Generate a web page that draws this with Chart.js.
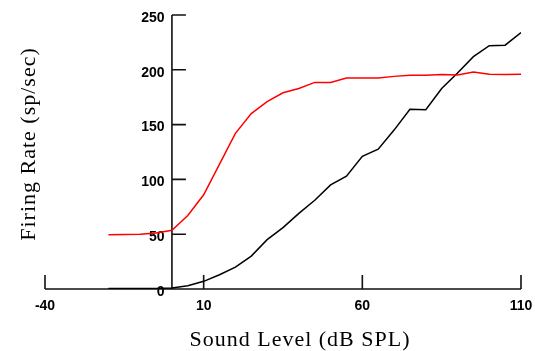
<!DOCTYPE html>
<html>
<head>
<meta charset="utf-8">
<script src="https://cdn.jsdelivr.net/npm/chart.js@4.4.1/dist/chart.umd.min.js"></script>
<style>
    body { margin: 0; background: #fff; }
    #wrap { width: 535px; height: 351px; position: relative; }
</style>
</head>
<body>
<div id="wrap"><canvas id="chartRate"></canvas></div>
<script>
// niveis de som (dB SPL)
var soundLevels = [-20, -15, -10, -5, 0, 5, 10, 15, 20, 25, 30, 35, 40, 45, 50, 55, 60, 65, 70, 75, 80, 85, 90, 95, 100, 105, 110];

// taxa de disparo (sp/sec)
var redRates = [49.5, 49.8, 50, 51, 53.5, 67, 86, 114, 142, 160, 171, 179, 183, 188.5, 188.5, 192.5, 192.5, 192.5, 194, 195, 195, 195.8, 195.2, 198, 196, 195.8, 196];
var blackRates = [0.5, 0.5, 0.5, 0.5, 1, 3, 7, 13, 20, 30, 45, 56, 69, 81, 95, 103, 121, 127.5, 145, 164, 163.5, 183, 197, 212, 222, 222.5, 234];

var xTicks = [-40, 10, 60, 110];
var yTicks = [0, 50, 100, 150, 200, 250];

var xTitle = "Sound Level (dB SPL)";
var yTitle = "Firing Rate (sp/sec)";

var toPoints = function (values) {
    return soundLevels.map(function (x, i) { return {x: x, y: values[i]}; });
};

var tickFont = {family: "'Liberation Sans', Arial, sans-serif", size: 14, weight: 'bold'};
var titleFont = "22px 'Liberation Serif', 'Times New Roman', serif";

// sem folga extra dos rotulos nas laterais
var noSidePadding = function (scale) {
    scale.paddingLeft = 0;
    scale.paddingRight = 0;
};

// eixos cruzando no zero, com tracinhos para dentro
var axesPlugin = {
    id: 'axesPlugin',
    beforeDatasetsDraw: function (chart) {
        var ctx = chart.ctx;
        var xs = chart.scales.x;
        var ys = chart.scales.y;
        var x0 = xs.getPixelForValue(0);
        var y0 = ys.getPixelForValue(0);
        var len = 14;
        ctx.save();
        ctx.strokeStyle = '#111';
        ctx.lineWidth = 1.6;
        ctx.beginPath();
        ctx.moveTo(xs.getPixelForValue(xTicks[0]), y0);
        ctx.lineTo(xs.getPixelForValue(xTicks[xTicks.length - 1]), y0);
        ctx.moveTo(x0, y0);
        ctx.lineTo(x0, ys.getPixelForValue(yTicks[yTicks.length - 1]));
        xTicks.forEach(function (v) {
            var px = xs.getPixelForValue(v);
            ctx.moveTo(px, y0);
            ctx.lineTo(px, y0 - len);
        });
        yTicks.forEach(function (v) {
            if (v === 0) return;
            var py = ys.getPixelForValue(v);
            ctx.moveTo(x0, py);
            ctx.lineTo(x0 + len, py);
        });
        ctx.stroke();
        ctx.restore();
    },
    afterDraw: function (chart) {
        var ctx = chart.ctx;
        ctx.save();
        ctx.fillStyle = '#000';
        ctx.font = titleFont;
        ctx.letterSpacing = '1px';
        ctx.textAlign = 'center';
        ctx.textBaseline = 'alphabetic';
        ctx.fillText(xTitle, 300, 346);
        ctx.translate(35, 144);
        ctx.rotate(-Math.PI / 2);
        ctx.fillText(yTitle, 0, 0);
        ctx.restore();
    }
};

var rateData = {
    datasets: [
        {
            label: "red",
            data: toPoints(redRates),
            borderColor: "#ff0000",
            borderWidth: 1.5,
            pointRadius: 0,
            tension: 0,
            fill: false
        },
        {
            label: "black",
            data: toPoints(blackRates),
            borderColor: "#000",
            borderWidth: 1.5,
            pointRadius: 0,
            tension: 0,
            fill: false
        }
    ]
};

var rateOptions = {
    responsive: true,
    maintainAspectRatio: false,
    animation: false,
    layout: {padding: {left: 45, right: 14, top: 15, bottom: 27.2}},
    plugins: {legend: {display: false}, tooltip: {enabled: false}},
    scales: {
        x: {
            type: 'linear',
            position: 'bottom',
            min: -40,
            max: 110,
            grid: {display: false, drawTicks: false},
            border: {display: false},
            ticks: {stepSize: 50, padding: 9, maxRotation: 0, color: '#000', font: tickFont},
            afterFit: noSidePadding
        },
        y: {
            type: 'linear',
            // labels a esquerda do eixo (o eixo em si e desenhado no zero)
            position: {x: -2.3},
            min: 0,
            max: 250,
            grid: {display: false, drawTicks: false},
            border: {display: false},
            ticks: {stepSize: 50, padding: 0, labelOffset: 3, color: '#000', font: tickFont},
            afterFit: noSidePadding
        }
    }
};

var ctx1 = document.getElementById("chartRate").getContext("2d");
new Chart(ctx1, {type: 'line', data: rateData, options: rateOptions, plugins: [axesPlugin]});
</script>
</body>
</html>
